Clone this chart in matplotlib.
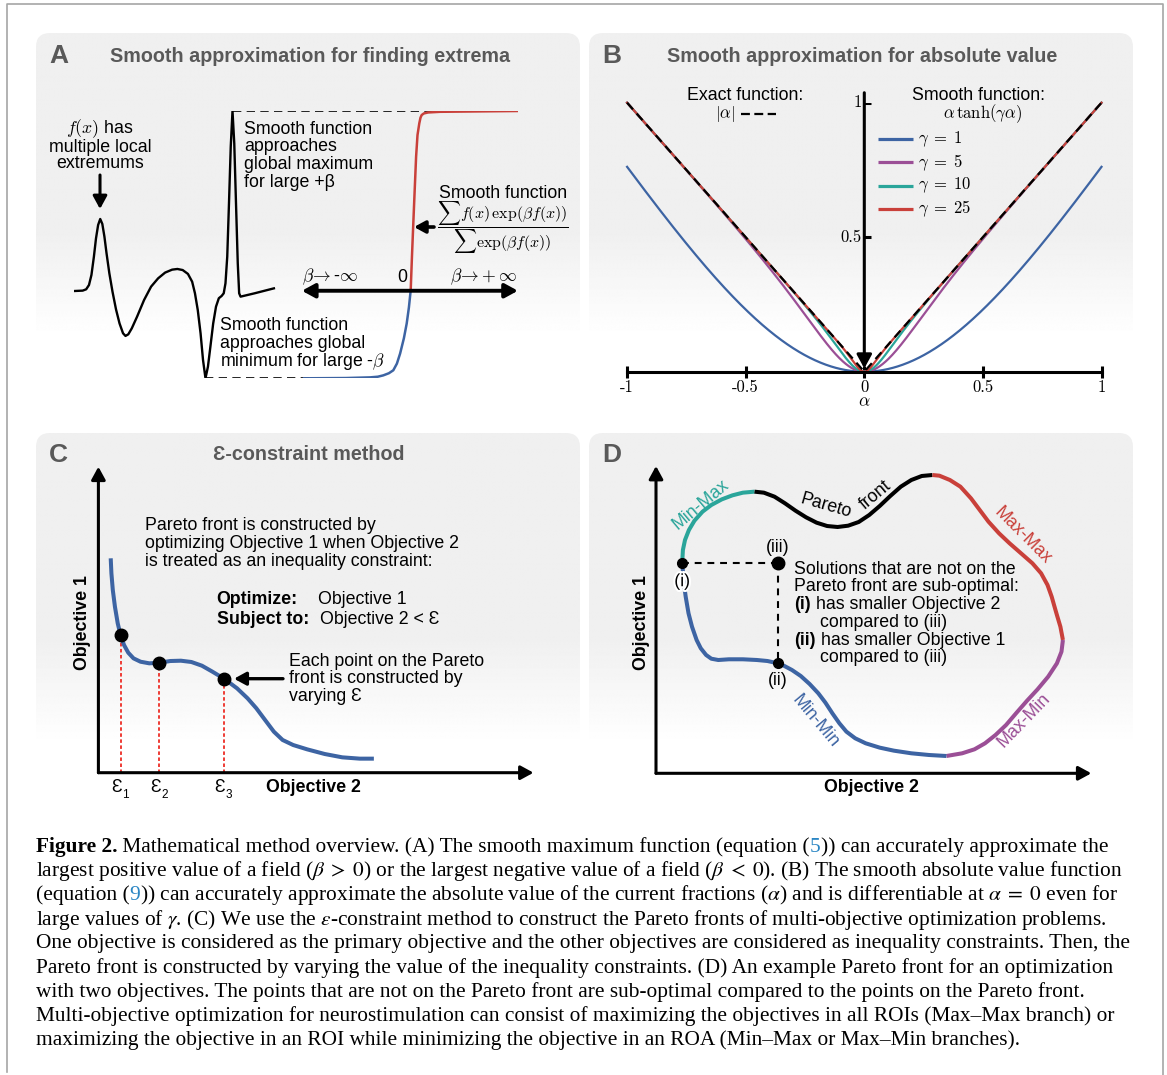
import numpy as np
import matplotlib
matplotlib.use('Agg')
import matplotlib.pyplot as plt
from matplotlib.patches import FancyBboxPatch
import matplotlib.patheffects as pe

# ---------------------------------------------------------------- data
# Panel A : schematic field f(x) (arbitrary units) with several extrema
fx_x = [0.000, 0.439, 0.614, 0.754, 0.877, 1.000, 1.105, 1.211, 1.316, 1.421, 1.526,
        1.632, 1.772, 1.930, 2.105, 2.281, 2.456, 2.579, 2.719, 2.895, 3.158, 3.509,
        3.860, 4.211, 4.561, 4.912, 5.175, 5.439, 5.702, 5.912, 6.053, 6.193, 6.333,
        6.456, 6.579, 6.702, 6.825, 6.965, 7.105, 7.246, 7.386, 7.491, 7.579, 7.667,
        7.754, 7.842, 7.930, 8.018, 8.105, 8.193, 8.263, 8.333, 9.035, 10.000]
fx_y = [-0.347, -0.344, -0.334, -0.302, -0.227, -0.090, 0.047, 0.147, 0.192, 0.155,
        0.060, -0.065, -0.214, -0.352, -0.484, -0.589, -0.663, -0.683, -0.671, -0.626,
        -0.539, -0.414, -0.314, -0.252, -0.209, -0.187, -0.182, -0.190, -0.219,
        -0.277, -0.364, -0.489, -0.663, -0.863, -1.000, -0.913, -0.763, -0.589,
        -0.464, -0.401, -0.384, -0.364, -0.289, -0.090, 0.309, 0.733, 1.000, 0.758,
        0.309, -0.140, -0.364, -0.389, -0.364, -0.327]
# smooth extremum as a function of beta (beta axis drawn to the right of f(x))
smin_x = [11.51, 13.60, 14.81, 15.20, 15.47, 15.75, 15.97, 16.15, 16.31, 16.50, 16.64,
          16.75, 16.84]
smin_y = [-1.0, -0.998, -0.993, -0.988, -0.978, -0.962, -0.940, -0.890, -0.815, -0.700,
          -0.590, -0.470, -0.341]
smax_x = [16.84, 16.90, 16.97, 17.04, 17.11, 17.18, 17.27, 17.33, 17.39, 17.50, 17.71,
          18.31, 22.2]
smax_y = [-0.341, -0.100, 0.159, 0.410, 0.658, 0.820, 0.908, 0.950, 0.970, 0.982, 0.989,
          0.994, 1.0]
beta_axis_x = [11.40, 22.2]
beta_axis_level = -0.345
min_line_end = 15.2

# Panel B : smooth absolute value alpha*tanh(gamma*alpha)
gammas = [1, 5, 10, 25]
gamma_colors = ['#3d64a3', '#9b4f96', '#2aa59a', '#c9403a']
alpha_ticks = [-1, -0.5, 0, 0.5, 1]
alpha_tick_labels = ['-1', '-0.5', '0', '0.5', '1']
abs_ticks = [0.5, 1]
abs_tick_labels = ['0.5', '1']

# Panel C : Pareto front (objective 2, objective 1) in arbitrary units
c_front_x = [2.83, 2.99, 3.31, 3.80, 4.44, 5.09, 5.89, 6.86, 8.07, 9.68, 11.70, 14.04,
             16.54, 18.96, 21.37, 23.79, 26.21, 28.88, 31.86, 34.28, 36.30, 38.31, 40.33,
             42.34, 44.76, 47.99, 52.02, 56.05, 60.08, 63.31]
c_front_y = [70.06, 65.15, 59.71, 54.26, 48.82, 45.00, 41.73, 39.22, 37.37, 36.27, 35.74,
             35.95, 36.50, 36.60, 36.18, 34.97, 33.01, 30.72, 27.58, 24.31, 21.05, 17.22,
             13.40, 10.69, 9.05, 7.63, 6.11, 5.02, 4.59, 4.59]
eps_x = [5.09, 14.04, 28.88]
eps_y = [45.00, 35.95, 30.72]

# Panel D : boundary of the objective space, by branch
d_minmax_x = [6.02, 6.18, 6.66, 7.56, 8.84, 10.69, 12.71, 15.12, 17.55, 19.96, 22.63]
d_minmax_y = [68.53, 72.66, 75.92, 79.17, 82.21, 85.14, 87.31, 89.15, 90.45, 91.32, 91.65]
d_pareto_x = [22.63, 24.79, 27.22, 29.64, 32.05, 34.48, 36.89, 39.31, 41.72, 44.15, 46.57,
              48.98, 51.39, 53.82, 56.24, 58.65, 61.06, 63.50]
d_pareto_y = [91.65, 91.32, 90.02, 87.85, 85.46, 83.30, 81.56, 80.47, 80.15, 80.58, 81.78,
              84.05, 86.98, 90.24, 93.27, 95.44, 96.75, 97.07]
d_maxmax_x = [63.50, 65.10, 67.52, 69.93, 72.36, 74.37, 76.38, 78.80, 81.23, 84.04, 86.47,
              88.47, 89.94, 90.90, 91.55, 92.10, 92.90, 93.48]
d_maxmax_y = [97.07, 96.85, 95.44, 93.27, 89.48, 85.68, 81.88, 78.10, 74.84, 71.36, 68.34,
              65.08, 61.28, 57.47, 54.22, 51.51, 47.71, 43.38]
d_maxmin_x = [93.48, 93.15, 92.10, 90.09, 87.66, 85.25, 82.84, 80.42, 77.99, 75.58, 73.17,
              70.34, 66.71]
d_maxmin_y = [43.38, 39.58, 35.79, 31.45, 27.33, 23.64, 19.73, 15.72, 12.46, 9.76, 7.81,
              6.51, 5.63]
d_minmin_x = [66.71, 62.69, 58.65, 54.63, 51.39, 48.17, 45.76, 43.74, 42.13, 40.52, 38.92,
              37.29, 35.29, 33.26, 31.24, 29.22, 28.03, 25.61, 23.18, 19.96, 16.75, 14.31,
              12.71, 11.51, 10.29, 9.33, 8.27, 7.47, 6.82, 6.41, 6.02]
d_minmin_y = [5.63, 5.96, 6.51, 7.37, 8.35, 9.76, 11.39, 13.55, 16.27, 19.52, 22.99,
              26.03, 29.06, 31.66, 33.61, 35.13, 35.79, 36.54, 36.87, 37.10, 37.10, 36.87,
              37.29, 38.50, 40.67, 43.38, 47.71, 52.07, 57.47, 61.83, 68.53]
pt_i = (6.02, 68.53)
pt_iii = (28.03, 68.53)
pt_ii = (28.03, 35.79)

# ---------------------------------------------------------------- style
BLUE = '#3d64a3'
PURPLE = '#9b4f96'
TEAL = '#2aa59a'
RED = '#c9403a'
GRAY = '#595959'
BODY = 12.8
TITLE = 14.2
LETTER = 19

plt.rcParams['font.family'] = ['Liberation Sans', 'DejaVu Sans']
plt.rcParams['mathtext.fontset'] = 'cm'

W, H = 1167, 1075
fig = plt.figure(figsize=(W / 100, H / 100), dpi=100)
fig.patch.set_facecolor('white')

bg = fig.add_axes([0, 0, 1, 1])
bg.set_xlim(0, W)
bg.set_ylim(H, 0)
bg.axis('off')
bg.set_autoscale_on(False)


def px_axes(x0, x1, y0, y1, xlim, ylim, off=True):
    ax = fig.add_axes([x0 / W, 1 - y1 / H, (x1 - x0) / W, (y1 - y0) / H])
    ax.set_xlim(*xlim)
    ax.set_ylim(*ylim)
    if off:
        ax.axis('off')
    ax.patch.set_visible(False)
    return ax


# gradient panels
grad = np.linspace(0, 1, 400)[:, None]
shade = np.where(grad < 0.55, 0.0, np.clip((grad - 0.55) / 0.28, 0, 1))
top_val = 0.941
img = top_val + (1 - top_val) * shade
img = np.repeat(img, 2, axis=1)
for (x0, y0, x1, y1) in [(36, 33, 580, 400), (589, 33, 1133, 400),
                         (36, 433, 580, 810), (589, 433, 1133, 810)]:
    box = FancyBboxPatch((x0, y0), x1 - x0, y1 - y0,
                         boxstyle='round,pad=0,rounding_size=14',
                         facecolor='none', edgecolor='none')
    bg.add_patch(box)
    im = bg.imshow(img, extent=(x0, x1, y1, y0), cmap='gray', vmin=0, vmax=1,
                   aspect='auto', interpolation='bilinear', origin='upper')
    im.set_clip_path(box)
bg.set_xlim(0, W)
bg.set_ylim(H, 0)

# outer border
bg.plot([7, 7, 1163, 1163], [1072, 4, 4, 1075], color='#a6a6a6', lw=1.2)

# panel letters & titles
for s, x, y in [('A', 49, 56), ('B', 602, 56), ('C', 49, 455), ('D', 602, 455)]:
    bg.text(x, y, s, fontsize=LETTER, fontweight='bold', color=GRAY, va='center', ha='left')
bg.text(110, 57, 'Smooth approximation for finding extrema', fontsize=TITLE,
        fontweight='bold', color=GRAY, va='center', ha='left')
bg.text(667, 57, 'Smooth approximation for absolute value', fontsize=TITLE,
        fontweight='bold', color=GRAY, va='center', ha='left')
bg.text(309, 455, 'Ɛ-constraint method', fontsize=TITLE,
        fontweight='bold', color=GRAY, va='center', ha='center')


def arrow(ax, xy_from, xy_to, lw=2.2, ms=15, hl=0.55, hw=0.3, style='-|>'):
    ax.annotate('', xy=xy_to, xytext=xy_from,
                arrowprops=dict(arrowstyle=f'{style},head_length={hl},head_width={hw}',
                                lw=lw, color='k', mutation_scale=ms,
                                shrinkA=0, shrinkB=0))


# ---------------------------------------------------------------- Panel A
axA = px_axes(73.9, 73.9 + 20 * 22.2, 111, 378.3, (0, 22.2), (-1, 1))
imax = int(np.argmax(fx_y))
imin = int(np.argmin(fx_y))
axA.plot([fx_x[imax], smax_x[-1]], [fx_y[imax]] * 2, color='k', lw=1.2, dashes=(5, 3.2))
axA.plot([fx_x[imin], min_line_end], [fx_y[imin]] * 2, color='k', lw=1.2, dashes=(5, 3.2))
axA.plot(fx_x, fx_y, color='k', lw=1.7, solid_joinstyle='round')
axA.plot(smin_x, smin_y, color=BLUE, lw=1.8, solid_joinstyle='round')
axA.plot(smax_x, smax_y, color=RED, lw=1.8, solid_joinstyle='round')
arrow(axA, (beta_axis_x[0], beta_axis_level), (beta_axis_x[1], beta_axis_level),
      lw=2.8, ms=14, style='<|-|>')

bg.text(100, 129, '$f(x)$ has', fontsize=BODY, ha='center', va='center')
bg.text(100, 147, 'multiple local', fontsize=BODY, ha='center', va='center')
bg.text(100, 164, 'extremums', fontsize=BODY, ha='center', va='center')
arrow(bg, (100, 175), (100, 209), lw=2.2, ms=14)
for i, s in enumerate(['Smooth function', 'approaches', 'global maximum', 'for large +β']):
    bg.text(244, 129 + 17.7 * i, s, fontsize=BODY, ha='left', va='center')
for i, s in enumerate(['Smooth function', 'approaches global', r'minimum for large -$\beta$']):
    bg.text(220, 326 + 17.8 * i, s, fontsize=BODY, ha='left', va='center')
bg.text(302, 277, r'$\beta\!\rightarrow$-$\infty$', fontsize=BODY, ha='left', va='center')
bg.text(402, 277, '0', fontsize=BODY, ha='center', va='center')
bg.text(518, 277, r'$\beta\!\rightarrow\!+\infty$', fontsize=BODY, ha='right', va='center')
bg.text(503, 193, 'Smooth function', fontsize=BODY, ha='center', va='center')
bg.text(503, 228, r'$\dfrac{\sum f(x)\,\exp(\beta f(x))}{\sum \exp(\beta f(x))}$',
        fontsize=11.5, ha='center', va='center')
arrow(bg, (434, 227), (414, 227), lw=2.6, ms=12)

# ---------------------------------------------------------------- Panel B
axB = px_axes(627.1, 1101.5, 102.7, 371.7, (-1, 1), (0, 1), off=False)
for s in ['top', 'right', 'left']:
    axB.spines[s].set_visible(False)
axB.spines['bottom'].set_position(('data', 0))
axB.spines['bottom'].set_linewidth(2.2)
axB.set_xticks(alpha_ticks)
axB.set_xticklabels(alpha_tick_labels, fontfamily='cmr10', fontsize=12)
axB.tick_params(axis='x', direction='inout', length=8, width=2.2, pad=1.5)
axB.set_yticks([])
alpha = np.linspace(-1, 1, 801)
for g, c in zip(gammas, gamma_colors):
    axB.plot(alpha, alpha * np.tanh(g * alpha), color=c, lw=1.6, clip_on=False)
axB.plot(alpha, np.abs(alpha), color='k', lw=1.6, dashes=(4, 2.5), clip_on=False)
arrow(axB, (0, 1.037), (0, 0.012), lw=2.2, ms=15)
for v, lab in zip(abs_ticks, abs_tick_labels):
    axB.plot([0, 0.03], [v, v], color='k', lw=2.2, solid_capstyle='butt')
    axB.text(-0.012, v, lab, fontfamily='cmr10', fontsize=12, ha='right', va='center')
bg.text(864, 402, r'$\alpha$', fontsize=12.5, ha='center', va='center')

bg.text(745, 95, 'Exact function:', fontsize=BODY, ha='center', va='center')
bg.text(724.5, 114, r'$|\alpha|$', fontsize=12, ha='center', va='center')
bg.plot([741, 776], [114, 114], color='k', lw=1.6, dashes=(4, 2))
bg.text(978, 95, 'Smooth function:', fontsize=BODY, ha='center', va='center')
bg.text(982.5, 114, r'$\alpha\,\tanh(\gamma\alpha)$', fontsize=12, ha='center', va='center')
for i, (g, c) in enumerate(zip(gammas, gamma_colors)):
    y = 139 + 23.3 * i
    bg.plot([878, 913], [y, y], color=c, lw=2.3, solid_capstyle='butt')
    bg.text(918, y, rf'$\gamma\;=\;{g}$', fontsize=12, ha='left', va='center')

# ---------------------------------------------------------------- Panel C
axC = px_axes(98.4, 533.5, 466.7, 772.7, (0, 100), (0, 100))
arrow(axC, (0, 0), (100, 0), lw=2.2, ms=14)
arrow(axC, (0, 0), (0, 100), lw=2.2, ms=14)
for x, y in zip(eps_x, eps_y):
    axC.plot([x, x], [0, y], color='#ee3b34', lw=1.4, dashes=(1.8, 1.3))
axC.plot(c_front_x, c_front_y, color=BLUE, lw=2.9, solid_capstyle='butt',
         solid_joinstyle='round')
axC.plot(eps_x, eps_y, 'o', color='k', ms=9)
for i, x in enumerate(eps_x):
    axC.annotate('Ɛ', xy=(x, 0), xytext=(-4, -15), textcoords='offset pixels',
                 fontsize=BODY, ha='center', va='center')
    axC.annotate(str(i + 1), xy=(x, 0), xytext=(5, -22), textcoords='offset pixels',
                 fontsize=8.5, ha='center', va='center')
bg.text(82.6, 623, 'Objective 1', fontsize=BODY, fontweight='bold', rotation=90,
        ha='center', va='center')
bg.text(266, 787, 'Objective 2', fontsize=BODY, fontweight='bold', ha='left', va='center')
for i, s in enumerate(['Pareto front is constructed by',
                       'optimizing Objective 1 when Objective 2',
                       'is treated as an inequality constraint:']):
    bg.text(145, 526 + 17.5 * i, s, fontsize=BODY, ha='left', va='center')
bg.text(216.7, 599, 'Optimize:', fontsize=BODY, fontweight='bold', ha='left', va='center')
bg.text(318.4, 599, 'Objective 1', fontsize=BODY, ha='left', va='center')
bg.text(216.7, 620, 'Subject to:', fontsize=BODY, fontweight='bold', ha='left', va='center')
bg.text(319.5, 620, 'Objective 2 < Ɛ', fontsize=BODY, ha='left', va='center')
arrow(bg, (283, 678.7), (234, 678.7), lw=2.4, ms=13)
for i, s in enumerate(['Each point on the Pareto', 'front is constructed by', 'varying Ɛ']):
    bg.text(288.6, 661 + 17.8 * i, s, fontsize=BODY, ha='left', va='center')

# ---------------------------------------------------------------- Panel D
axD = px_axes(656, 1091.3, 466, 773.3, (0, 100), (0, 100))
arrow(axD, (0, 0), (100, 0), lw=2.2, ms=14)
arrow(axD, (0, 0), (0, 100), lw=2.2, ms=14)
for xs, ys, c in [(d_minmax_x, d_minmax_y, TEAL), (d_pareto_x, d_pareto_y, 'k'),
                  (d_maxmax_x, d_maxmax_y, RED), (d_maxmin_x, d_maxmin_y, PURPLE),
                  (d_minmin_x, d_minmin_y, BLUE)]:
    axD.plot(xs, ys, color=c, lw=2.9, solid_capstyle='butt', solid_joinstyle='round')
axD.plot([pt_i[0], pt_iii[0]], [pt_i[1], pt_iii[1]], color='k', lw=1.5, dashes=(3.3, 2.8))
axD.plot([pt_iii[0], pt_ii[0]], [pt_iii[1], pt_ii[1]], color='k', lw=1.5, dashes=(3.3, 2.8))
axD.plot(*pt_i, 'o', color='k', ms=7)
axD.plot(*pt_ii, 'o', color='k', ms=7)
axD.plot(*pt_iii, 'o', color='k', ms=9)
wstroke = [pe.withStroke(linewidth=3, foreground='white')]
axD.annotate('(i)', xy=pt_i, xytext=(0, -19), textcoords='offset pixels', fontsize=BODY,
             ha='center', va='center', path_effects=wstroke, zorder=5)
axD.annotate('(iii)', xy=pt_iii, xytext=(0, 15), textcoords='offset pixels', fontsize=BODY,
             ha='center', va='center')
axD.annotate('(ii)', xy=pt_ii, xytext=(0, -17), textcoords='offset pixels', fontsize=BODY,
             ha='center', va='center')
bg.text(641, 623, 'Objective 1', fontsize=BODY, fontweight='bold', rotation=90,
        ha='center', va='center')
bg.text(871, 787, 'Objective 2', fontsize=BODY, fontweight='bold', ha='center', va='center')
bg.text(701, 505, 'Min-Max', fontsize=BODY, color=TEAL, rotation=40, ha='center', va='center')
bg.text(826.4, 506, 'Pareto', fontsize=BODY, color='k', rotation=-16, ha='center', va='center')
bg.text(875.5, 495, 'front', fontsize=BODY, color='k', rotation=40, ha='center', va='center')
bg.text(1023, 536, 'Max-Max', fontsize=BODY, color=RED, rotation=-45, ha='center', va='center')
bg.text(1024.3, 720, 'Max-Min', fontsize=BODY, color=PURPLE, rotation=46, ha='center', va='center')
bg.text(815.5, 721.7, 'Min-Min', fontsize=BODY, color=BLUE, rotation=-50, ha='center', va='center')
bg.text(793.8, 569.3, 'Solutions that are not on the', fontsize=BODY, ha='left', va='center')
bg.text(793.8, 586.7, 'Pareto front are sub-optimal:', fontsize=BODY, ha='left', va='center')
bg.text(793.8, 604.7, '(i)', fontsize=BODY, fontweight='bold', ha='left', va='center')
bg.text(815.5, 604.7, 'has smaller Objective 2', fontsize=BODY, ha='left', va='center')
bg.text(820, 622.7, 'compared to (iii)', fontsize=BODY, ha='left', va='center')
bg.text(793.8, 640.3, '(ii)', fontsize=BODY, fontweight='bold', ha='left', va='center')
bg.text(820.8, 640.3, 'has smaller Objective 1', fontsize=BODY, ha='left', va='center')
bg.text(820, 658, 'compared to (iii)', fontsize=BODY, ha='left', va='center')

# ---------------------------------------------------------------- caption
N = {}
Bd = {'fontweight': 'bold'}
Cl = {'color': '#2a86c4'}
caption = [
    [('Figure 2.', Bd), (' Mathematical method overview. (A) The smooth maximum function (equation (', N),
     ('5', Cl), (')) can accurately approximate the', N)],
    [(r'largest positive value of a field ($\beta\;>\;0$) or the largest negative value of a field ($\beta\;<\;0$). (B) The smooth absolute value function', N)],
    [('(equation (', N), ('9', Cl),
     (r')) can accurately approximate the absolute value of the current fractions ($\alpha$) and is differentiable at $\alpha\;=\;0$ even for', N)],
    [(r'large values of $\gamma$. (C) We use the $\epsilon$-constraint method to construct the Pareto fronts of multi-objective optimization problems.', N)],
    [('One objective is considered as the primary objective and the other objectives are considered as inequality constraints. Then, the', N)],
    [('Pareto front is constructed by varying the value of the inequality constraints. (D) An example Pareto front for an optimization', N)],
    [('with two objectives. The points that are not on the Pareto front are sub-optimal compared to the points on the Pareto front.', N)],
    [('Multi-objective optimization for neurostimulation can consist of maximizing the objectives in all ROIs (Max–Max branch) or', N)],
    [('maximizing the objective in an ROI while minimizing the objective in an ROA (Min–Max or Max–Min branches).', N)],
]
caption_right = [1104.5, 1104.5, 1116, 1111.5, 1113, 1109.5, 1092, 1101, 998]
R = fig.canvas.get_renderer()
cap_base = dict(fontfamily=['Liberation Serif', 'DejaVu Serif'], math_fontfamily='stix',
                va='center', ha='left')
CAP_LEFT = 35.7


def seg_width(txt, size, style):
    t1 = bg.text(0, 0, '|' + txt + '|', fontsize=size, **cap_base, **style)
    t0 = bg.text(0, 0, '||', fontsize=size, **cap_base, **style)
    w = t1.get_window_extent(R).width - t0.get_window_extent(R).width
    t1.remove()
    t0.remove()
    return w


ratios = []
for line, right in zip(caption, caption_right):
    w = sum(seg_width(t, 13, s) for t, s in line)
    ratios.append((right - CAP_LEFT) / w)
cap_size = 13 * float(np.median(ratios))
for i, line in enumerate(caption):
    x = CAP_LEFT
    y = 847 + 24.2 * i
    for txt, style in line:
        bg.text(x, y, txt, fontsize=cap_size, **cap_base, **style)
        x += seg_width(txt, cap_size, style)

fig.savefig('out.png', dpi=100, facecolor='white')
